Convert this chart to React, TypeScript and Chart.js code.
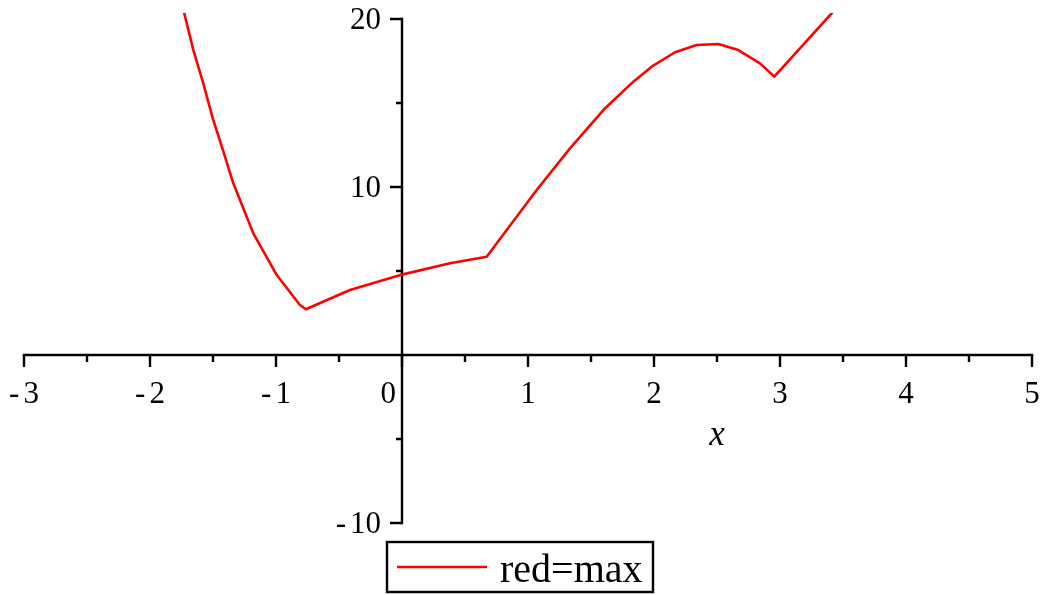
import React, { useEffect, useRef } from "react";
import { Chart, registerables } from "chart.js";

Chart.register(...registerables);

// Sampled curve (piecewise linear, as plotted)
const CURVE_X = [
  -1.75, -1.656, -1.577, -1.502, -1.421, -1.339, -1.18, -0.994, -0.81, -0.762,
  -0.704, -0.413, 0.008, 0.381, 0.672, 1.069, 1.333, 1.598, 1.836, 1.994, 2.167,
  2.339, 2.51, 2.669, 2.841, 2.955, 3.41, 3.49,
];
const CURVE_Y = [
  21.0, 18.15, 16.17, 14.09, 12.2, 10.22, 7.24, 4.76, 2.98, 2.72, 2.92, 3.87,
  4.8, 5.46, 5.85, 9.82, 12.3, 14.58, 16.27, 17.23, 18.02, 18.45, 18.51, 18.15,
  17.36, 16.57, 20.34, 21.0,
];

const X_RANGE = [-3, 5];
const Y_RANGE = [-10, 20];
const X_MAJOR = [-3, -2, -1, 0, 1, 2, 3, 4, 5];
const X_MINOR = [-2.5, -1.5, -0.5, 0.5, 1.5, 2.5, 3.5, 4.5];
const Y_MAJOR = [-10, 10, 20];
const Y_MINOR = [-5, 5, 15];
const X_TITLE = "x";
const SERIES_LABEL = "red=max";

const SERIF = '"Liberation Serif", "Times New Roman", serif';

// Draws a number with a spaced minus sign, aligned by its right edge or centre
function drawNumber(
  ctx: CanvasRenderingContext2D,
  value: number,
  x: number,
  y: number,
  align: "center" | "right"
) {
  const digits = String(Math.abs(value));
  const neg = value < 0;
  const gap = 4;
  const wMinus = neg ? ctx.measureText("-").width + gap : 0;
  const wDigits = ctx.measureText(digits).width;
  const total = wMinus + wDigits;
  const left = align === "center" ? x - total / 2 : x - total;
  ctx.textAlign = "left";
  if (neg) ctx.fillText("-", left, y);
  ctx.fillText(digits, left + wMinus, y);
}

const axesPlugin = {
  id: "crossedAxes",
  beforeDatasetsDraw(chart: any) {
    const { ctx } = chart;
    const xs = chart.scales.x;
    const ys = chart.scales.y;
    const x0 = xs.getPixelForValue(0);
    const y0 = ys.getPixelForValue(0);
    ctx.save();
    ctx.strokeStyle = "#000";
    ctx.fillStyle = "#000";
    ctx.lineWidth = 2.4;
    ctx.lineCap = "butt";

    // axis lines
    ctx.beginPath();
    ctx.moveTo(xs.getPixelForValue(X_RANGE[0]) - 1.2, y0);
    ctx.lineTo(xs.getPixelForValue(X_RANGE[1]) + 1.2, y0);
    ctx.moveTo(x0, ys.getPixelForValue(Y_RANGE[1]) - 1.2);
    ctx.lineTo(x0, ys.getPixelForValue(Y_RANGE[0]) + 1.2);
    ctx.stroke();

    // ticks
    ctx.beginPath();
    X_MAJOR.forEach((v) => {
      const px = xs.getPixelForValue(v);
      ctx.moveTo(px, y0);
      ctx.lineTo(px, y0 + 12);
    });
    X_MINOR.forEach((v) => {
      const px = xs.getPixelForValue(v);
      ctx.moveTo(px, y0);
      ctx.lineTo(px, y0 + 7);
    });
    Y_MAJOR.forEach((v) => {
      const py = ys.getPixelForValue(v);
      ctx.moveTo(x0, py);
      ctx.lineTo(x0 - 12, py);
    });
    Y_MINOR.forEach((v) => {
      const py = ys.getPixelForValue(v);
      ctx.moveTo(x0, py);
      ctx.lineTo(x0 - 6, py);
    });
    ctx.stroke();

    // tick labels
    ctx.font = `31px ${SERIF}`;
    ctx.textBaseline = "alphabetic";
    X_MAJOR.forEach((v) => {
      const px = xs.getPixelForValue(v);
      if (v === 0) drawNumber(ctx, v, px - 6, y0 + 48, "right");
      else drawNumber(ctx, v, px, y0 + 48, "center");
    });
    ctx.textBaseline = "middle";
    Y_MAJOR.forEach((v) => {
      const py = ys.getPixelForValue(v);
      drawNumber(ctx, v, x0 - 21, py + 2, "right");
    });

    // axis title, centred on the positive half of the x axis
    ctx.font = `italic 35px ${SERIF}`;
    ctx.textAlign = "center";
    ctx.textBaseline = "alphabetic";
    const xt = (x0 + xs.getPixelForValue(X_RANGE[1])) / 2;
    ctx.fillText(X_TITLE, xt, y0 + 90);
    ctx.restore();
  },
  afterDraw(chart: any) {
    const { ctx } = chart;
    const ds = chart.data.datasets[0];
    const bottom = chart.chartArea.bottom;
    const bx = 387;
    const by = bottom + 19;
    ctx.save();
    ctx.strokeStyle = "#000";
    ctx.lineWidth = 2.4;
    ctx.strokeRect(bx, by, 266, 50);
    ctx.strokeStyle = ds.borderColor;
    ctx.lineWidth = 2.6;
    ctx.beginPath();
    ctx.moveTo(bx + 10, by + 25);
    ctx.lineTo(bx + 100, by + 25);
    ctx.stroke();
    ctx.fillStyle = "#000";
    ctx.font = `40px ${SERIF}`;
    ctx.textAlign = "left";
    ctx.textBaseline = "alphabetic";
    ctx.fillText(ds.label, bx + 113, by + 40);
    ctx.restore();
  },
};

export default function App() {
  const canvasRef = useRef<HTMLCanvasElement | null>(null);

  useEffect(() => {
    const canvas = canvasRef.current;
    if (!canvas) return;
    const points = CURVE_X.map((x, i) => ({ x, y: CURVE_Y[i] }));
    const chart = new Chart(canvas, {
      type: "scatter",
      data: {
        datasets: [
          {
            label: SERIES_LABEL,
            data: points,
            showLine: true,
            borderColor: "#ff0000",
            backgroundColor: "#ff0000",
            borderWidth: 2.6,
            pointRadius: 0,
            pointHoverRadius: 0,
            borderJoinStyle: "round",
            tension: 0,
            clip: { left: 0, top: 6, right: 0, bottom: 0 },
          } as any,
        ],
      },
      options: {
        animation: false,
        responsive: false,
        maintainAspectRatio: false,
        events: [],
        layout: { padding: { left: 24, right: 9, top: 19, bottom: 72 } },
        plugins: {
          legend: { display: false },
          tooltip: { enabled: false },
          title: { display: false },
        },
        scales: {
          x: { type: "linear", min: X_RANGE[0], max: X_RANGE[1], display: false },
          y: { type: "linear", min: Y_RANGE[0], max: Y_RANGE[1], display: false },
        },
      },
      plugins: [axesPlugin],
    });
    return () => chart.destroy();
  }, []);

  return (
    <div
      style={{
        position: "fixed",
        left: 0,
        top: 0,
        width: 1041,
        height: 595,
        background: "#fff",
      }}
    >
      <canvas
        ref={canvasRef}
        width={1041}
        height={595}
        style={{ width: 1041, height: 595, display: "block" }}
      />
    </div>
  );
}
